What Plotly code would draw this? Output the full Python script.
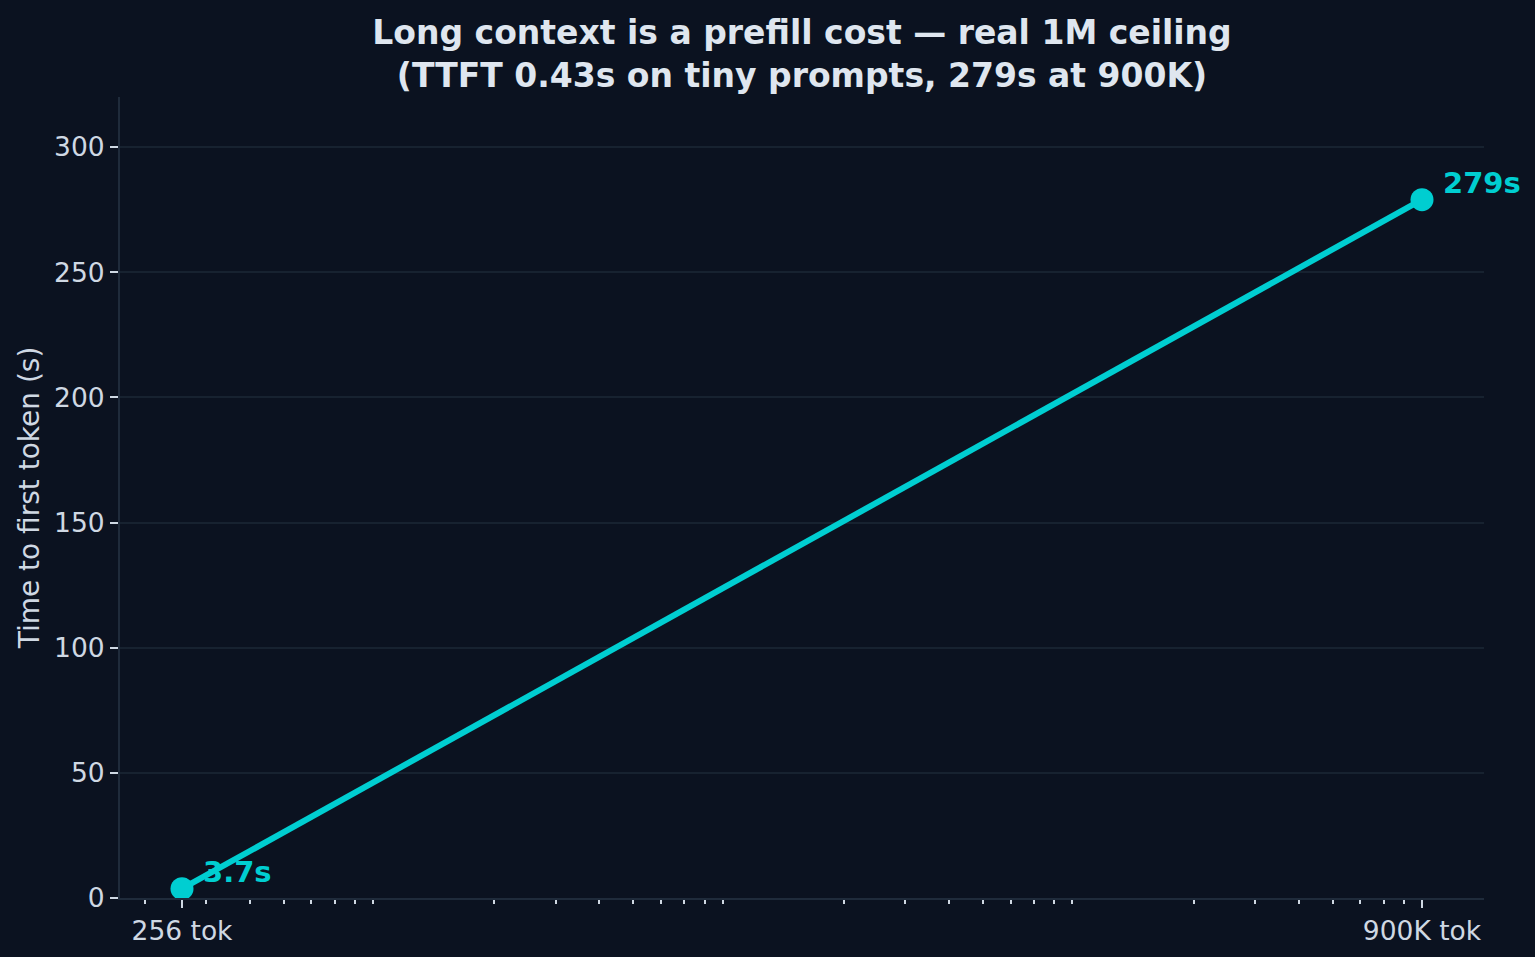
import math
import plotly.graph_objects as go

# Data
context_tokens = [256, 900000]
ttft_seconds = [3.7, 279]
point_labels = ["3.7s", "279s"]
x_tick_vals = [256, 900000]
x_tick_text = ["256 tok", "900K tok"]
y_tick_vals = [0, 50, 100, 150, 200, 250, 300]

BG = "#0b1220"
TEAL = "#00ced1"
TXT = "#dfe6ef"
TICK = "#cfd8e3"
SPINE = "#1f2b3b"
GRID = "#172230"

minor_vals = []
for dec in [100, 1000, 10000, 100000]:
    for m in range(2, 10):
        v = m * dec
        if v not in x_tick_vals:
            minor_vals.append(v)

fig = go.Figure()
fig.add_trace(go.Scatter(
    x=context_tokens, y=ttft_seconds, mode="lines+markers",
    line=dict(color=TEAL, width=6),
    marker=dict(color=TEAL, size=23),
    showlegend=False, hoverinfo="skip",
))

for xv, yv, lab in zip(context_tokens, ttft_seconds, point_labels):
    fig.add_annotation(
        x=math.log10(xv), y=yv, xref="x", yref="y", text=lab, showarrow=False,
        xanchor="left", yanchor="middle", xshift=19, yshift=17,
        font=dict(family="DejaVu Sans", size=29, color=TEAL, weight="bold"),
    )

lo = math.log10(context_tokens[0]); hi = math.log10(context_tokens[-1])
pad = (hi - lo) * 0.05

fig.update_layout(
    width=1535, height=957,
    paper_bgcolor=BG, plot_bgcolor=BG,
    margin=dict(l=120, r=51, t=97, b=59),
    font=dict(family="DejaVu Sans", color=TICK, size=26),
    title=dict(
        text="Long context is a prefill cost — real 1M ceiling<br>(TTFT 0.43s on tiny prompts, 279s at 900K)",
        x=0.5, xanchor="center", xref="paper", y=1 - 44 / 957, yanchor="middle", yref="container",
        font=dict(family="DejaVu Sans", size=33, color=TXT, weight="bold"),
    ),
    xaxis=dict(
        type="log", range=[lo - pad, hi + pad],
        tickmode="array", tickvals=x_tick_vals, ticktext=x_tick_text,
        ticks="outside", ticklen=8, tickwidth=2, tickcolor=TICK,
        showgrid=False, zeroline=False,
        showline=True, linecolor=SPINE, linewidth=2,
        tickfont=dict(size=26.5, color=TICK),
        minor=dict(tickmode="array", tickvals=minor_vals, ticks="outside",
                   ticklen=4, tickwidth=1.5, tickcolor=TICK, showgrid=False),
    ),
    yaxis=dict(
        range=[0, 320], tickmode="array", tickvals=y_tick_vals,
        ticks="outside", ticklen=8, tickwidth=2, tickcolor=TICK,
        showgrid=True, gridcolor=GRID, gridwidth=2, zeroline=False,
        showline=True, linecolor=SPINE, linewidth=2,
        tickfont=dict(size=26.5, color=TICK),
        title=dict(text="Time to first token (s)", font=dict(size=28, color=TICK), standoff=6),
    ),
)

fig.write_html(
    "out.html",
    config={"displayModeBar": False},
    post_script="document.body.style.margin='0';document.body.style.background='#0b1220';",
)
